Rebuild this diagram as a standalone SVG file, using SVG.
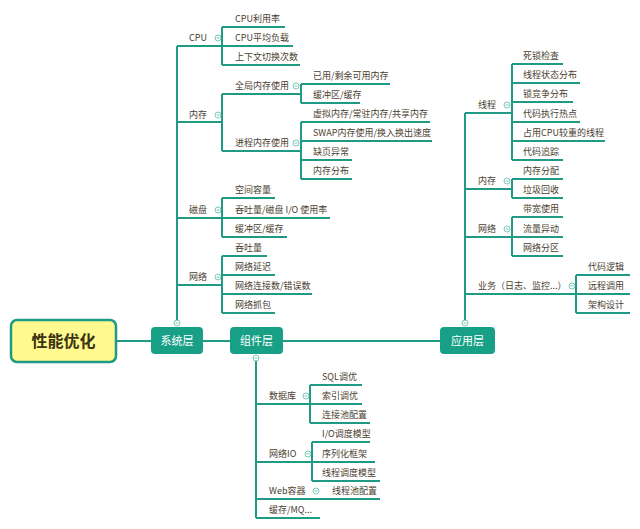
<svg xmlns="http://www.w3.org/2000/svg" width="640" height="529" viewBox="0 0 640 529">
<defs>
<style>
.l{stroke:#1f9a85;stroke-width:2;fill:none}
.t{font-family:"Noto Sans CJK SC","Liberation Sans",sans-serif;font-size:9px;fill:#4a4030}
.n{font-family:"Noto Sans CJK SC","Liberation Sans",sans-serif;font-size:11px;fill:#fff;text-anchor:middle}
.b{fill:#17a086}
</style>
<g id="c"><circle r="3" fill="#fff" stroke="#5fb8a8" stroke-width="0.8"/><line x1="-1.6" x2="1.6" stroke="#5fb8a8" stroke-width="0.8"/></g>
</defs>
<rect width="640" height="529" fill="#fff"/>
<g id="connectors" class="l">
<path d="M116 341H440"/>
<path d="M177 321V46M177 46H222M222 27V65M222 27H285M222 46H293M222 65H300"/>
<path d="M177 122H222M222 94V151M222 94H300M301 84V103M301 84H390M301 103H360M222 151H300M301 122V179M301 122H430M301 141H432M301 160H352M301 179H352"/>
<path d="M177 218H222M222 198V237M222 198H275M222 218H330M222 237H287"/>
<path d="M177 285H222M222 256V313M222 256H267M222 275H275M222 294H312M222 313H275"/>
<path d="M465 321V113M465 113H512M512 64V160M512 64H563M512 83H580M512 102H573M512 122H580M512 141H605M512 160H563"/>
<path d="M465 189H512M512 179V198M512 179H563M512 198H563"/>
<path d="M465 237H512M512 217V256M512 217H563M512 237H563M512 256H563"/>
<path d="M465 294H576M576 275V313M576 275H630M576 294H630M576 313H630"/>
<path d="M256 356V518M256 404H310M310 385V423M310 385H362M310 404H362M310 423H370"/>
<path d="M256 462H312M312 442V481M312 442H370M312 462H375M312 481H380"/>
<path d="M256 499H380M256 518H320"/>
</g>
<g id="toggles">
<use href="#c" x="177" y="323"/><use href="#c" x="218" y="38"/><use href="#c" x="218" y="115"/><use href="#c" x="296" y="86"/><use href="#c" x="296" y="143"/><use href="#c" x="218" y="210"/><use href="#c" x="218" y="277"/>
<use href="#c" x="465" y="323"/><use href="#c" x="507" y="105"/><use href="#c" x="507" y="181"/><use href="#c" x="507" y="229"/><use href="#c" x="572" y="286"/>
<use href="#c" x="256" y="358"/><use href="#c" x="306" y="396"/><use href="#c" x="308" y="454"/><use href="#c" x="316" y="491"/>
</g>
<g id="root"><rect x="11" y="320" width="105" height="42" rx="6" fill="#fff98f" stroke="#1f9a85" stroke-width="2.5"/><text x="63.5" y="347" text-anchor="middle" font-family="Noto Sans CJK SC,sans-serif" font-size="16" font-weight="bold" fill="#3a3410">性能优化</text></g>
<g id="sys"><rect class="b" x="151" y="327" width="52" height="27" rx="4"/><text class="n" x="177" y="345">系统层</text></g>
<g id="comp"><rect class="b" x="230" y="327" width="53" height="27" rx="4"/><text class="n" x="256.5" y="345">组件层</text></g>
<g id="app"><rect class="b" x="440" y="327" width="55" height="27" rx="4"/><text class="n" x="467.5" y="345">应用层</text></g>
<g id="labels" class="t">
<text x="189" y="41">CPU</text>
<text x="235" y="22">CPU利用率</text><text x="235" y="41">CPU平均负载</text><text x="235" y="60">上下文切换次数</text>
<text x="189" y="118">内存</text>
<text x="235" y="89">全局内存使用</text><text x="313" y="79">已用/剩余可用内存</text><text x="313" y="98">缓冲区/缓存</text>
<text x="235" y="146">进程内存使用</text><text x="313" y="117">虚拟内存/常驻内存/共享内存</text><text x="313" y="136">SWAP内存使用/换入换出速度</text><text x="313" y="155">缺页异常</text><text x="313" y="174">内存分布</text>
<text x="189" y="213">磁盘</text>
<text x="235" y="193">空间容量</text><text x="235" y="213">吞吐量/磁盘 I/O 使用率</text><text x="235" y="232">缓冲区/缓存</text>
<text x="189" y="280">网络</text>
<text x="235" y="251">吞吐量</text><text x="235" y="270">网络延迟</text><text x="235" y="289">网络连接数/错误数</text><text x="235" y="308">网络抓包</text>
<text x="478" y="108">线程</text>
<text x="523" y="59">死锁检查</text><text x="523" y="78">线程状态分布</text><text x="523" y="97">锁竞争分布</text><text x="523" y="117">代码执行热点</text><text x="523" y="136">占用CPU较重的线程</text><text x="523" y="155">代码追踪</text>
<text x="478" y="184">内存</text><text x="523" y="174">内存分配</text><text x="523" y="193">垃圾回收</text>
<text x="478" y="232">网络</text><text x="523" y="212">带宽使用</text><text x="523" y="232">流量异动</text><text x="523" y="251">网络分区</text>
<text x="478" y="289">业务（日志、监控...）</text>
<text x="588" y="270">代码逻辑</text><text x="588" y="289">远程调用</text><text x="588" y="308">架构设计</text>
<text x="269" y="399">数据库</text>
<text x="322" y="380">SQL调优</text><text x="322" y="399">索引调优</text><text x="322" y="418">连接池配置</text>
<text x="269" y="457">网络IO</text>
<text x="322" y="437">I/O调度模型</text><text x="322" y="457">序列化框架</text><text x="322" y="476">线程调度模型</text>
<text x="269" y="494">Web容器</text><text x="332" y="494">线程池配置</text>
<text x="269" y="513">缓存/MQ...</text>
</g>
</svg>
